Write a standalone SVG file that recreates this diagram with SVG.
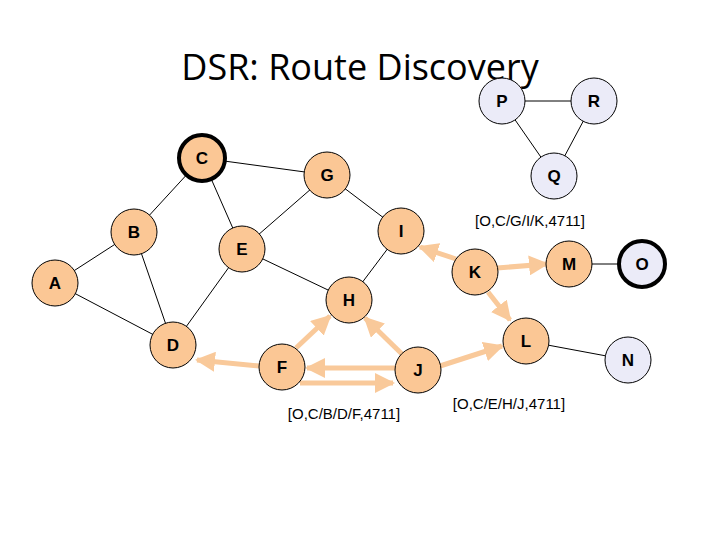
<svg xmlns="http://www.w3.org/2000/svg" width="720" height="540" viewBox="0 0 720 540">
<defs>
<marker id="ah" viewBox="0 0 10 10" refX="9" refY="5" markerWidth="4" markerHeight="4" orient="auto" markerUnits="strokeWidth"><path d="M0,0L10,5L0,10z" fill="#f9c99a"/></marker>
<style>
.o{fill:#fbc795;stroke:#000;stroke-width:1}
.v{fill:#ebebf8;stroke:#000;stroke-width:1}
.t{stroke:#000;stroke-width:4}
.l{font-family:"Liberation Sans",Arial,sans-serif;font-weight:bold;font-size:17px;text-anchor:middle}
.e line{stroke:#000;stroke-width:1}
.a line{stroke:#f9c99a;stroke-width:5;marker-end:url(#ah)}
.c{font-family:"Liberation Sans",Arial,sans-serif;font-size:15px}
</style>
</defs>
<rect width="720" height="540" fill="#fff"/>
<text x="360" y="80" font-family="'Open Sans',sans-serif" font-size="36" text-anchor="middle">DSR: Route Discovery</text>
<g id="connectors">
<g class="e">
<line x1="202" y1="158" x2="327" y2="175"/><line x1="202" y1="158" x2="134" y2="232"/><line x1="202" y1="158" x2="242" y2="249"/>
<line x1="327" y1="175" x2="242" y2="249"/><line x1="327" y1="175" x2="401" y2="231"/><line x1="134" y1="232" x2="55" y2="283"/>
<line x1="134" y1="232" x2="173" y2="345"/><line x1="55" y1="283" x2="173" y2="345"/><line x1="242" y1="249" x2="173" y2="345"/>
<line x1="242" y1="249" x2="349" y2="300"/><line x1="401" y1="231" x2="349" y2="300"/><line x1="569" y1="264" x2="642" y2="264"/>
<line x1="526" y1="341" x2="628" y2="360"/><line x1="502" y1="101" x2="594" y2="101"/><line x1="502" y1="101" x2="554" y2="176"/><line x1="594" y1="101" x2="554" y2="176"/>
</g>
<g class="a">
<line x1="259" y1="366" x2="197" y2="360"/>
<line x1="296" y1="348" x2="330" y2="316"/>
<line x1="395" y1="368" x2="307" y2="368"/>
<line x1="300" y1="383" x2="393" y2="383"/>
<line x1="403" y1="355" x2="365" y2="318"/>
<line x1="440" y1="366" x2="502" y2="346"/>
<line x1="456" y1="259" x2="420" y2="247"/>
<line x1="497" y1="268" x2="547" y2="264"/>
<line x1="488" y1="292" x2="510" y2="320"/>
</g>
</g>
<g id="C"><circle class="o t" cx="202" cy="158" r="23" style="stroke-width:4"/><text class="l" x="202" y="164">C</text></g>
<g id="G"><circle class="o" cx="327" cy="175" r="23"/><text class="l" x="327" y="181">G</text></g>
<g id="B"><circle class="o" cx="134" cy="232" r="23"/><text class="l" x="134" y="238">B</text></g>
<g id="E"><circle class="o" cx="242" cy="249" r="23"/><text class="l" x="242" y="255">E</text></g>
<g id="A"><circle class="o" cx="55" cy="283" r="23"/><text class="l" x="55" y="289">A</text></g>
<g id="H"><circle class="o" cx="349" cy="300" r="23"/><text class="l" x="349" y="306">H</text></g>
<g id="D"><circle class="o" cx="173" cy="345" r="23"/><text class="l" x="173" y="351">D</text></g>
<g id="F"><circle class="o" cx="282" cy="367" r="23"/><text class="l" x="282" y="373">F</text></g>
<g id="J"><circle class="o" cx="418" cy="370" r="23"/><text class="l" x="418" y="376">J</text></g>
<g id="L"><circle class="o" cx="526" cy="341" r="23"/><text class="l" x="526" y="347">L</text></g>
<g id="I"><circle class="o" cx="401" cy="231" r="23"/><text class="l" x="401" y="237">I</text></g>
<g id="K"><circle class="o" cx="475" cy="272" r="23"/><text class="l" x="475" y="278">K</text></g>
<g id="M"><circle class="o" cx="569" cy="264" r="23"/><text class="l" x="569" y="270">M</text></g>
<g id="O"><circle class="v" cx="642" cy="264" r="23" style="stroke-width:4"/><text class="l" x="642" y="270">O</text></g>
<g id="N"><circle class="v" cx="628" cy="360" r="23"/><text class="l" x="628" y="366">N</text></g>
<g id="P"><circle class="v" cx="502" cy="101" r="23"/><text class="l" x="502" y="107">P</text></g>
<g id="R"><circle class="v" cx="594" cy="101" r="23"/><text class="l" x="594" y="107">R</text></g>
<g id="Q"><circle class="v" cx="554" cy="176" r="23"/><text class="l" x="554" y="182">Q</text></g>
<text class="c" x="344" y="419" text-anchor="middle">[O,C/B/D/F,4711]</text>
<text class="c" x="509" y="409" text-anchor="middle">[O,C/E/H/J,4711]</text>
<text class="c" x="530" y="226" text-anchor="middle">[O,C/G/I/K,4711]</text>
</svg>
